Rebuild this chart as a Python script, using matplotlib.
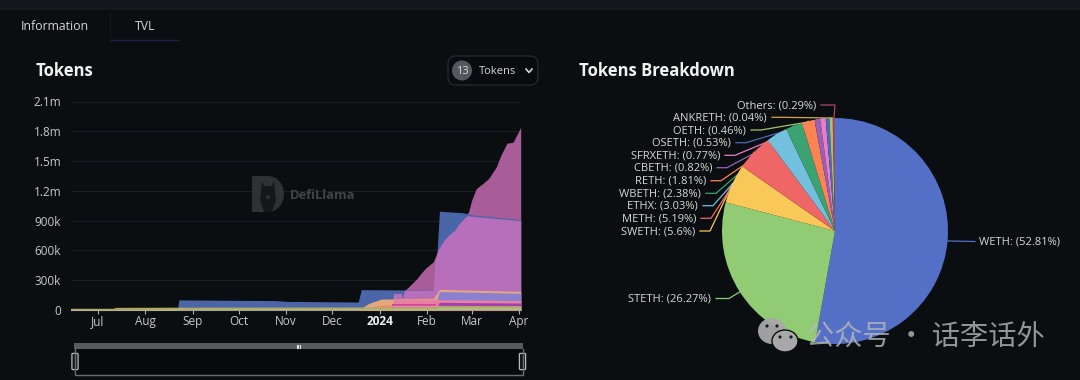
import numpy as np
import pandas as pd
import matplotlib
matplotlib.use('Agg')
import matplotlib.pyplot as plt
import matplotlib.dates as mdates
from matplotlib.patches import Circle, Ellipse, FancyBboxPatch, Polygon, Rectangle

plt.rcParams['font.family'] = ['Open Sans', 'DejaVu Sans']

# Stacked area outlines (back to front)
mauve_dates = ['2024-01-17', '2024-01-20', '2024-01-25', '2024-01-28', '2024-01-31', '2024-02-05', '2024-02-08',
               '2024-02-12', '2024-02-15', '2024-02-19', '2024-02-22', '2024-02-24', '2024-02-28', '2024-03-01',
               '2024-03-04', '2024-03-08', '2024-03-12', '2024-03-17', '2024-03-20', '2024-03-24', '2024-03-28',
               '2024-04-02']
mauve_tops = [194e3, 235e3, 311e3, 370e3, 422e3, 485e3, 603e3, 703e3, 753e3, 804e3, 872e3, 904e3, 988e3, 1.105e6,
              1.222e6, 1.27e6, 1.323e6, 1.44e6, 1.557e6, 1.68e6, 1.69e6, 1.84e6]

blue_dates = ['2023-08-22', '2023-08-23', '2023-10-01', '2023-10-25', '2023-11-01', '2023-12-18', '2023-12-20',
              '2024-02-06', '2024-02-09', '2024-02-24', '2024-03-01', '2024-04-02']
blue_tops = [0, 102e3, 97e3, 95e3, 87e3, 80e3, 205e3, 200e3, 995e3, 980e3, 960e3, 910e3]

orchid_dates = ['2024-01-09', '2024-01-10', '2024-01-15', '2024-01-16', '2024-01-17', '2024-02-05', '2024-02-06',
                '2024-02-08', '2024-02-12', '2024-02-15', '2024-02-19', '2024-02-22', '2024-02-24', '2024-02-27',
                '2024-03-01', '2024-04-02']
orchid_tops = [0, 165e3, 168e3, 110e3, 198e3, 198e3, 485e3, 603e3, 703e3, 753e3, 804e3, 872e3, 904e3, 950e3,
               945e3, 900e3]

peach_dates = ['2023-12-18', '2023-12-25', '2024-01-02', '2024-02-05', '2024-02-09', '2024-04-02']
peach_tops = [0, 67e3, 110e3, 117e3, 208e3, 188e3]

periwinkle_dates = ['2024-02-05', '2024-02-09', '2024-04-02']
periwinkle_tops = [0, 186e3, 168e3]

salmon_dates = ['2023-12-19', '2024-01-01', '2024-01-09']
salmon_tops = [0, 50e3, 55e3]

pink_dates = ['2024-01-09', '2024-01-10', '2024-02-05', '2024-02-08', '2024-04-02']
pink_tops = [0, 107e3, 107e3, 105e3, 95e3]

hotpink_dates = ['2024-01-09', '2024-02-07']
hotpink_tops = [60e3, 60e3]

purple_dates = ['2024-02-07', '2024-02-09', '2024-04-02']
purple_tops = [30e3, 77e3, 70e3]

lilac_dates = ['2024-01-09', '2024-02-07', '2024-02-09', '2024-04-02']
lilac_tops = [48e3, 48e3, 43e3, 42e3]

base_dates = ['2023-06-14', '2023-07-12', '2023-07-13', '2023-08-20', '2023-12-18', '2024-02-06', '2024-02-09',
              '2024-04-02']
base_tops = [4e3, 4e3, 13e3, 15e3, 17e3, 18e3, 33e3, 30e3]

month_ticks = ['2023-07-01', '2023-08-01', '2023-09-01', '2023-10-01', '2023-11-01', '2023-12-01', '2024-01-01',
               '2024-02-01', '2024-03-01', '2024-04-01']
month_labels = ['Jul', 'Aug', 'Sep', 'Oct', 'Nov', 'Dec', '2024', 'Feb', 'Mar', 'Apr']
y_ticks = [0, 300e3, 600e3, 900e3, 1.2e6, 1.5e6, 1.8e6, 2.1e6]
y_labels = ['0', '300k', '600k', '900k', '1.2m', '1.5m', '1.8m', '2.1m']

# Pie
tokens = ['WETH', 'STETH', 'SWETH', 'METH', 'ETHX', 'WBETH', 'RETH', 'CBETH', 'SFRXETH', 'OSETH', 'OETH',
          'ANKRETH', 'Others']
shares = [52.81, 26.27, 5.6, 5.19, 3.03, 2.38, 1.81, 0.82, 0.77, 0.53, 0.46, 0.04, 0.29]
pie_colors = ['#5470c6', '#91cc75', '#fac858', '#ee6666', '#73c0de', '#3ba272', '#fc8452', '#9a60b4', '#ea7ccc',
              '#4f6bb5', '#a4c36a', '#d8a24a', '#b0446a']
# where each label ends on the left side (pixels) and how long the flat part of its leader is
label_right = [None, 711, 695, 696, 698, 701, 706, 712, 720, 731, 746, 767, 816]
label_y = [241.5, 298.5, 231, 218.3, 205.7, 193.3, 180.7, 167.7, 155.3, 142.7, 130, 117.3, 105]
label_flat = [0, 13, 10, 10, 10, 10, 10, 10, 10, 10, 10, 10, 14]

BG = '#0a0e11'
fig = plt.figure(figsize=(10.8, 3.8), dpi=100, facecolor=BG)


def px_axes(left, top, right, bottom, **kw):
    return fig.add_axes([left / 1080, 1 - bottom / 380, (right - left) / 1080, (bottom - top) / 380], **kw)


# Area chart
ax = px_axes(71, 101.5, 520.7, 310, facecolor='none')
layers = [
    (mauve_dates, mauve_tops, '#a85c98'),
    (blue_dates, blue_tops, '#4a65a8'),
    (orchid_dates, orchid_tops, '#b86fbb'),
    (peach_dates, peach_tops, '#e3a67e'),
    (periwinkle_dates, periwinkle_tops, '#8b80cf'),
    (salmon_dates, salmon_tops, '#e98f72'),
    (pink_dates, pink_tops, '#e8819f'),
    (hotpink_dates, hotpink_tops, '#dd3fa0'),
    (purple_dates, purple_tops, '#a040b0'),
    (lilac_dates, lilac_tops, '#d98fa8'),
    (base_dates, base_tops, '#b4bb80'),
]
for d, v, c in layers:
    ax.fill_between(pd.to_datetime(d), 0, v, color=c, lw=0, zorder=3)
ax.plot(pd.to_datetime(base_dates), base_tops, color='#b5a862', lw=1.2, zorder=4)

ax.set_xlim(mdates.date2num(pd.Timestamp('2023-06-13 16:00')), mdates.date2num(pd.Timestamp('2024-04-02')))
ax.set_ylim(0, 2.1e6)
ax.set_yticks(y_ticks)
ax.set_yticklabels(y_labels)
ax.set_xticks(pd.to_datetime(month_ticks))
ax.set_xticklabels(month_labels)
ax.grid(axis='y', color='#1a1f24', lw=0.8, zorder=0)
ax.tick_params(axis='y', length=0, pad=7, labelsize=8.5, labelcolor='#c8cacc')
ax.tick_params(axis='x', length=3, width=0.8, color='#aeb0b2', pad=0.8, labelsize=8.5, labelcolor='#c8cacc')
ax.get_xticklabels()[6].set_fontweight('bold')
ax.get_xticklabels()[6].set_color('#f0f0f0')
for s in ['top', 'left', 'right']:
    ax.spines[s].set_visible(False)
ax.spines['bottom'].set_color('#aeb0b2')
ax.spines['bottom'].set_linewidth(0.8)

# Leaders go under the pie, so this one is made first
under = fig.add_axes([0, 0, 1, 1], facecolor='none')
under.set_xlim(0, 1080)
under.set_ylim(380, 0)
under.axis('off')

# Pie chart
pie_cx, pie_cy, pie_r = 835, 231, 113
pax = px_axes(pie_cx - pie_r, pie_cy - pie_r, pie_cx + pie_r, pie_cy + pie_r, facecolor='none')
pax.pie(shares, colors=pie_colors, startangle=90, counterclock=False, radius=1, wedgeprops={'linewidth': 0})
pax.set_xlim(-1, 1)
pax.set_ylim(-1, 1)

# Everything else lives in pixel coordinates
ui = fig.add_axes([0, 0, 1, 1], facecolor='none')
ui.set_xlim(0, 1080)
ui.set_ylim(380, 0)
ui.axis('off')

# Leaders and labels
mid = (np.cumsum(shares) - np.array(shares) / 2) / 100 * 2 * np.pi
for i, name in enumerate(tokens):
    ex = pie_cx + pie_r * np.sin(mid[i])
    ey = pie_cy - pie_r * np.cos(mid[i])
    text = f'{name}: ({shares[i]}%)'
    if name == 'WETH':
        under.plot([ex, 975], [ey, label_y[i]], color=pie_colors[i], lw=0.9)
        ui.text(979, label_y[i] + 0.7, text, color='#d8d8d8', fontsize=8, va='center', ha='left')
        continue
    start = label_right[i] + 5
    under.plot([start, start + label_flat[i], ex], [label_y[i], label_y[i], ey], color=pie_colors[i], lw=0.9)
    ui.text(label_right[i], label_y[i] + 0.7, text, color='#d8d8d8', fontsize=8, va='center', ha='right')

# Top strip and tabs
ui.add_patch(Rectangle((0, 0), 1080, 9.5, color='#14171b', lw=0))
ui.text(55, 26, 'Information', color='#d4d6d8', fontsize=8.8, ha='center', va='center')
ui.text(145, 26, 'TVL', color='#d4d6d8', fontsize=8.8, ha='center', va='center')
ui.plot([111, 179], [40, 40], color='#1c2148', lw=1)
ui.plot([110, 110], [12, 40], color='#14181c', lw=0.8)

ui.text(36, 70.5, 'Tokens', color='#f2f2f2', fontsize=12, fontweight='bold', va='center')
ui.text(579, 70.5, 'Tokens Breakdown', color='#f2f2f2', fontsize=12, fontweight='bold', va='center')

# Token selector
ui.add_patch(FancyBboxPatch((451, 59), 84, 23, boxstyle='round,pad=3,rounding_size=8', fc='#090b0e', ec='#262a30',
                            lw=0.9))
ui.add_patch(Circle((462, 70.5), 10, fc='#55575f', lw=0))
ui.text(462, 71, '13', color='#d8d8d8', fontsize=8, ha='center', va='center')
ui.text(479, 71.5, 'Tokens', color='#d8d8d8', fontsize=8, va='center')
ui.plot([526, 529, 532], [69, 72.5, 69], color='#e0e0e0', lw=1.1)

# DefiLlama watermark
ui.add_patch(Rectangle((252, 176), 16, 36, fc='#2f3235', lw=0))
ui.add_patch(Ellipse((268, 194), 32, 36, fc='#2f3235', lw=0))
ui.add_patch(Polygon([(262, 181), (264, 186), (272, 186), (274, 181), (276, 200), (272, 212), (264, 212), (260, 200)],
                     fc='#15181b', lw=0))
ui.add_patch(Circle((268, 197), 2, fc='#2f3235', lw=0))
ui.text(290, 195.5, 'DefiLlama', color='#404447', fontsize=9.3, fontweight='bold', va='center')

# Range slider
ui.add_patch(Rectangle((74, 343), 449, 6, color='#58595b', lw=0))
ui.add_patch(Rectangle((75, 349), 447, 25, color='#07090b', lw=0))
ui.plot([75, 75, 522.5, 522.5], [349, 374.5, 374.5, 349], color='#6a6c6e', lw=1)
for x0 in [296.5, 298.2, 299.9]:
    ui.plot([x0, x0], [344.5, 347.5], color='#e4e4e4', lw=0.8)
for hx in [75, 522.5]:
    ui.add_patch(FancyBboxPatch((hx - 2.5, 354), 5, 15, boxstyle='round,pad=0.6,rounding_size=1', fc='#14171a',
                                ec='#b8babc', lw=0.9))

# WeChat watermark over the pie
wm = '#b8b8b8'
ui.add_patch(Ellipse((772, 331), 28, 26, fc='#a8a8a8', lw=0, alpha=0.95))
ui.add_patch(Ellipse((785, 341), 26, 22, fc='#a8a8a8', ec=BG, lw=1, alpha=1))
for ex, ey in [(767, 326), (777, 326), (780, 337), (791, 337)]:
    ui.add_patch(Circle((ex, ey), 1.6, fc='#1a1c1e', lw=0))
ui.text(806, 337, '公众号 · 话李话外', color=wm, alpha=0.8, fontsize=20.3, va='center',
        family=['Noto Sans CJK SC', 'DejaVu Sans'])

fig.savefig('out.png', dpi=100, facecolor=BG)
plt.close(fig)
